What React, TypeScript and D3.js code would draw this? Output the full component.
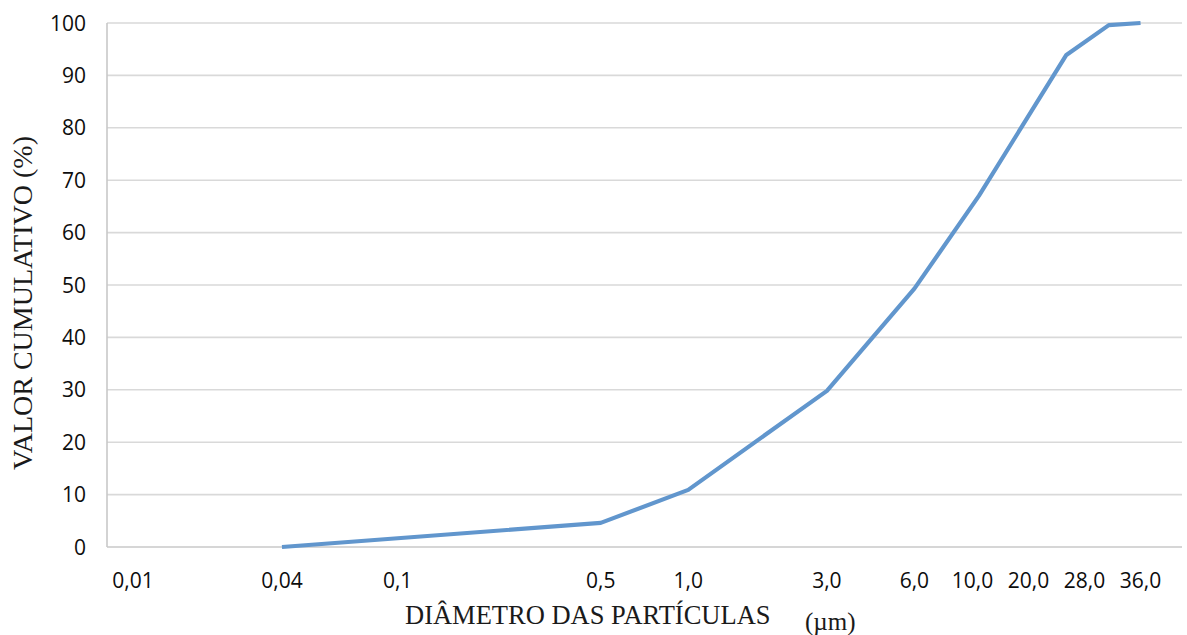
import React from "react";
import * as d3 from "d3";

const diameters = [0.04, 0.5, 1, 3, 6, 10, 20, 28, 36];
const cumulative = [0, 4.6, 10.9, 29.8, 49.3, 67, 93.9, 99.6, 100];
const xTickValues = [0.01, 0.04, 0.1, 0.5, 1, 3, 6, 10, 20, 28, 36];
const xTickLabels = ["0,01", "0,04", "0,1", "0,5", "1,0", "3,0", "6,0", "10,0", "20,0", "28,0", "36,0"];
const yTickValues = [0, 10, 20, 30, 40, 50, 60, 70, 80, 90, 100];
const yTitle = "VALOR CUMULATIVO (%)";
const xTitle = "DIÂMETRO DAS PARTÍCULAS";
const xUnit = "(µm)";

const W = 1187;
const H = 635;
const left = 107;
const right = 1182;
const top = 23;
const bottom = 547;

export default function App() {
  const x = d3.scaleLog().domain([0.01, 50]).range([left, right]);
  const y = d3.scaleLinear().domain([0, 100]).range([bottom, top]);

  const line = d3
    .line<number>()
    .x((_, i) => x(diameters[i]))
    .y((d) => y(d));

  // label layout: start at scale position, clamp within plot, then avoid overlaps from the right
  const halfW = 26;
  const gap = 56;
  const lx = xTickValues.map((v) => Math.min(Math.max(x(v), left + halfW), right - halfW));
  for (let i = lx.length - 2; i >= 0; i--) {
    if (lx[i] > lx[i + 1] - gap) lx[i] = lx[i + 1] - gap;
  }

  const tickFont = "'Open Sans', sans-serif";
  const serif = "'Liberation Serif', 'Times New Roman', serif";

  return (
    <div style={{ position: "absolute", left: 0, top: 0 }}>
      <svg width={W} height={H} style={{ display: "block", background: "#fff" }}>
        {yTickValues.map((t) => (
          <line
            key={"g" + t}
            x1={left}
            x2={right}
            y1={y(t)}
            y2={y(t)}
            stroke={t === 0 ? "#c8c8c8" : "#d9d9d9"}
            strokeWidth={1.6}
          />
        ))}
        <line x1={left} x2={left} y1={top} y2={bottom} stroke="#c8c8c8" strokeWidth={1.6} />
        {yTickValues.map((t) => (
          <text
            key={"y" + t}
            x={86}
            y={y(t)}
            dy="0.36em"
            textAnchor="end"
            fontFamily={tickFont}
            fontSize={21}
            fill="#0d0d0d"
          >
            {t}
          </text>
        ))}
        {xTickLabels.map((lab, i) => (
          <text
            key={"x" + i}
            x={lx[i]}
            y={588}
            textAnchor="middle"
            fontFamily={tickFont}
            fontSize={21}
            fill="#0d0d0d"
          >
            {lab}
          </text>
        ))}
        <path
          d={line(cumulative) || ""}
          fill="none"
          stroke="#6196cd"
          strokeWidth={4.2}
          strokeLinejoin="round"
        />
        <text
          transform={`translate(32, ${(top + bottom) / 2 + 18}) rotate(-90)`}
          textAnchor="middle"
          fontFamily={serif}
          fontSize={28}
          fill="#1a1a1a"
        >
          {yTitle}
        </text>
        <text x={405} y={624} fontFamily={serif} fontSize={26.5} fill="#1a1a1a">
          {xTitle}
        </text>
        <text x={805} y={630} fontFamily={serif} fontSize={25} fill="#1a1a1a">
          {xUnit}
        </text>
      </svg>
    </div>
  );
}
